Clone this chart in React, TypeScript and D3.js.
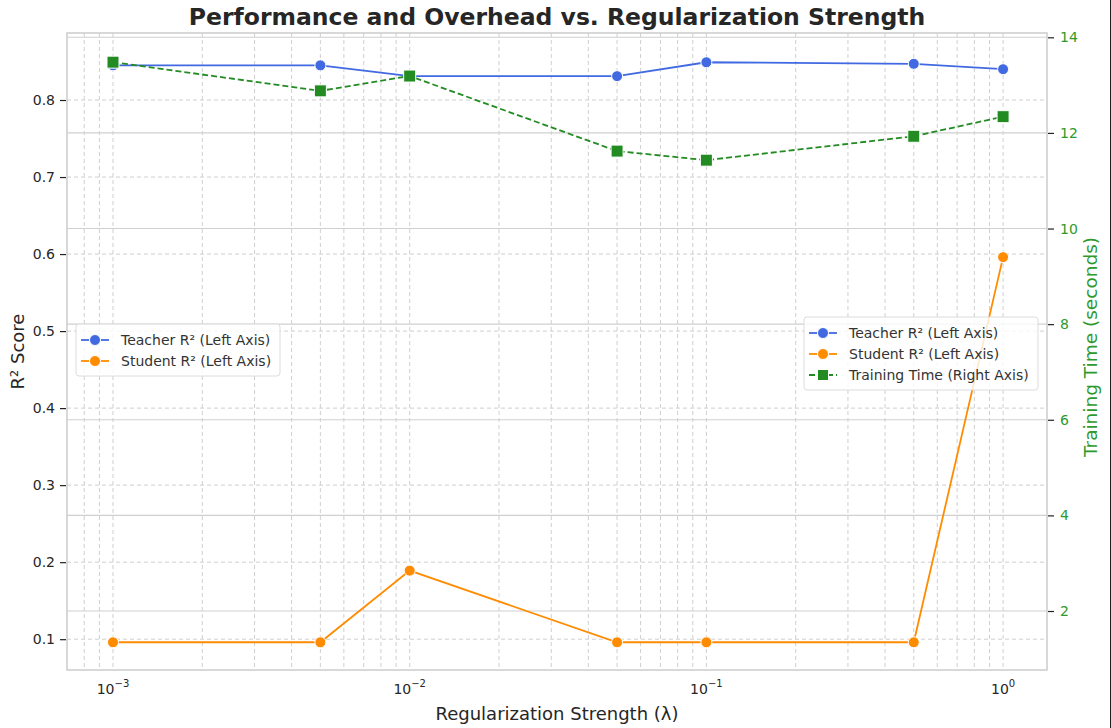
import { useEffect, useRef } from 'react'
import * as d3 from 'd3'

// regularization strengths (x, log scale)
const lambdas = [0.001, 0.005, 0.01, 0.05, 0.1, 0.5, 1.0]
// R² scores, left axis
const teacherR2 = [0.845, 0.845, 0.831, 0.831, 0.849, 0.847, 0.84]
const studentR2 = [0.096, 0.096, 0.189, 0.096, 0.096, 0.096, 0.596]
// training time in seconds, right axis
const trainTime = [13.48, 12.88, 13.19, 11.62, 11.43, 11.93, 12.34]

const leftTicks = [0.1, 0.2, 0.3, 0.4, 0.5, 0.6, 0.7, 0.8]
const rightTicks = [2, 4, 6, 8, 10, 12, 14]
const xMajorTicks = [1e-3, 1e-2, 1e-1, 1]
const xTickExp = ['−3', '−2', '−1', '0']

const BLUE = '#4169E1'
const ORANGE = '#FF8C00'
const GREEN = '#228B22'
const FONT = 'DejaVu Sans, sans-serif'

const App = () => {
  const svgRef = useRef<SVGSVGElement | null>(null)

  useEffect(() => {
    if (!svgRef.current) return
    const svg = d3.select(svgRef.current)
    svg.selectAll('*').remove()

    const W = 1111
    const H = 728
    const left = 67
    const right = 1047
    const top = 33
    const bottom = 670

    svg.append('rect').attr('width', W).attr('height', H).attr('fill', 'white')

    // scales
    const x = d3.scaleLog().domain([Math.pow(10, -3.155), Math.pow(10, 0.148)]).range([left, right])
    const y = d3.scaleLinear().domain([0.06, 0.887]).range([bottom, top])
    const y2 = d3.scaleLinear().domain([0.766, 14.09]).range([bottom, top])

    const grid = svg.append('g')

    // x grid - major + minor, dashed
    const xGridVals: number[] = []
    for (let e = -4; e <= 0; e++) {
      for (let m = 1; m <= 9; m++) {
        const v = m * Math.pow(10, e)
        const px = x(v)
        if (px > left + 1 && px < right - 1) xGridVals.push(v)
      }
    }
    grid.selectAll('line.xg')
      .data(xGridVals)
      .join('line')
      .attr('x1', (d) => x(d))
      .attr('x2', (d) => x(d))
      .attr('y1', top)
      .attr('y2', bottom)
      .attr('stroke', '#cfcfcf')
      .attr('stroke-width', 1)
      .attr('stroke-dasharray', '4,3')

    // left y grid - dashed
    grid.selectAll('line.yg')
      .data(leftTicks)
      .join('line')
      .attr('x1', left)
      .attr('x2', right)
      .attr('y1', (d) => y(d))
      .attr('y2', (d) => y(d))
      .attr('stroke', '#cfcfcf')
      .attr('stroke-width', 1)
      .attr('stroke-dasharray', '4,3')

    // right y grid - solid
    const grid2 = svg.append('g')
    grid2.selectAll('line')
      .data(rightTicks)
      .join('line')
      .attr('x1', left)
      .attr('x2', right)
      .attr('y1', (d) => y2(d))
      .attr('y2', (d) => y2(d))
      .attr('stroke', '#d0d0d0')
      .attr('stroke-width', 1.1)

    // teacher + student lines
    const idx = d3.range(lambdas.length)
    const drawSeries = (vals: number[], color: string) => {
      const line = d3.line<number>().x((i) => x(lambdas[i])).y((i) => y(vals[i]))
      svg.append('path')
        .datum(idx)
        .attr('fill', 'none')
        .attr('stroke', color)
        .attr('stroke-width', 1.8)
        .attr('d', line)
      svg.append('g')
        .selectAll('circle')
        .data(idx)
        .join('circle')
        .attr('cx', (i) => x(lambdas[i]))
        .attr('cy', (i) => y(vals[i]))
        .attr('r', 5.5)
        .attr('fill', color)
        .attr('stroke', 'white')
        .attr('stroke-width', 1)
    }
    drawSeries(teacherR2, BLUE)
    drawSeries(studentR2, ORANGE)

    // legend box helper
    const legend = (lx: number, ly: number, w: number, items: { label: string; color: string; square: boolean; dashed: boolean }[]) => {
      const g = svg.append('g')
      const rowH = 21
      g.append('rect')
        .attr('x', lx)
        .attr('y', ly)
        .attr('width', w)
        .attr('height', items.length * rowH + 10)
        .attr('rx', 3)
        .attr('fill', 'white')
        .attr('fill-opacity', 0.8)
        .attr('stroke', '#dcdcdc')
      items.forEach((it, i) => {
        const cy = ly + 16 + i * rowH
        g.append('line')
          .attr('x1', lx + 5)
          .attr('x2', lx + 33)
          .attr('y1', cy)
          .attr('y2', cy)
          .attr('stroke', it.color)
          .attr('stroke-width', 1.8)
          .attr('stroke-dasharray', it.dashed ? '6,3' : null)
        if (it.square) {
          g.append('rect')
            .attr('x', lx + 19 - 5.5)
            .attr('y', cy - 5.5)
            .attr('width', 11)
            .attr('height', 11)
            .attr('fill', it.color)
            .attr('stroke', 'white')
        } else {
          g.append('circle')
            .attr('cx', lx + 19)
            .attr('cy', cy)
            .attr('r', 5.5)
            .attr('fill', it.color)
            .attr('stroke', 'white')
        }
        g.append('text')
          .attr('x', lx + 45)
          .attr('y', cy + 5)
          .attr('font-family', FONT)
          .attr('font-size', 14)
          .attr('fill', '#333')
          .text(it.label)
      })
    }
    legend(76, 324, 204, [
      { label: 'Teacher R² (Left Axis)', color: BLUE, square: false, dashed: false },
      { label: 'Student R² (Left Axis)', color: ORANGE, square: false, dashed: false },
    ])

    // training time on twin axis
    const line2 = d3.line<number>().x((i) => x(lambdas[i])).y((i) => y2(trainTime[i]))
    svg.append('path')
      .datum(idx)
      .attr('fill', 'none')
      .attr('stroke', GREEN)
      .attr('stroke-width', 1.8)
      .attr('stroke-dasharray', '6,3')
      .attr('d', line2)
    svg.append('g')
      .selectAll('rect')
      .data(idx)
      .join('rect')
      .attr('x', (i) => x(lambdas[i]) - 6)
      .attr('y', (i) => y2(trainTime[i]) - 6)
      .attr('width', 12)
      .attr('height', 12)
      .attr('fill', GREEN)
      .attr('stroke', 'white')
      .attr('stroke-width', 1)

    legend(804, 317, 234, [
      { label: 'Teacher R² (Left Axis)', color: BLUE, square: false, dashed: false },
      { label: 'Student R² (Left Axis)', color: ORANGE, square: false, dashed: false },
      { label: 'Training Time (Right Axis)', color: GREEN, square: true, dashed: true },
    ])

    // spines
    svg.append('rect')
      .attr('x', left)
      .attr('y', top)
      .attr('width', right - left)
      .attr('height', bottom - top)
      .attr('fill', 'none')
      .attr('stroke', '#cccccc')
      .attr('stroke-width', 1.5)

    // left axis
    const yAxis = d3.axisLeft(y).tickValues(leftTicks).tickFormat(d3.format('.1f')).tickSize(6).tickPadding(5)
    const ga = svg.append('g').attr('transform', `translate(${left - 1},0)`).call(yAxis)
    ga.select('.domain').remove()
    ga.selectAll('line').attr('stroke', '#222').attr('stroke-width', 1.2)
    ga.selectAll('text').attr('font-family', FONT).attr('font-size', 14).attr('fill', '#262626')

    // right axis
    const y2Axis = d3.axisRight(y2).tickValues(rightTicks).tickFormat(d3.format('d')).tickSize(6).tickPadding(6)
    const gb = svg.append('g').attr('transform', `translate(${right + 1},0)`).call(y2Axis)
    gb.select('.domain').remove()
    gb.selectAll('line').attr('stroke', '#222').attr('stroke-width', 1.2)
    gb.selectAll('text').attr('font-family', FONT).attr('font-size', 14).attr('fill', '#2e9a2e')

    // x tick labels as 10^n
    const xt = svg.append('g')
    xMajorTicks.forEach((v, i) => {
      const t = xt.append('text')
        .attr('x', x(v))
        .attr('y', 694)
        .attr('text-anchor', 'middle')
        .attr('font-family', FONT)
        .attr('font-size', 14)
        .attr('fill', '#262626')
      t.append('tspan').text('10')
      t.append('tspan').attr('dy', -7).attr('font-size', 10).text(xTickExp[i])
    })

    // title + axis labels
    svg.append('text')
      .attr('x', (left + right) / 2)
      .attr('y', 25)
      .attr('text-anchor', 'middle')
      .attr('font-family', FONT)
      .attr('font-weight', 'bold')
      .attr('font-size', 23.5)
      .attr('fill', '#262626')
      .text('Performance and Overhead vs. Regularization Strength')

    svg.append('text')
      .attr('x', (left + right) / 2)
      .attr('y', 720)
      .attr('text-anchor', 'middle')
      .attr('font-family', FONT)
      .attr('font-size', 18)
      .attr('fill', '#262626')
      .text('Regularization Strength (λ)')

    svg.append('text')
      .attr('transform', `translate(24,${(top + bottom) / 2}) rotate(-90)`)
      .attr('text-anchor', 'middle')
      .attr('font-family', FONT)
      .attr('font-size', 18)
      .attr('fill', '#262626')
      .text('R² Score')

    svg.append('text')
      .attr('transform', `translate(1097,347) rotate(-90)`)
      .attr('text-anchor', 'middle')
      .attr('font-family', FONT)
      .attr('font-size', 18.5)
      .attr('fill', '#2e9a2e')
      .text('Training Time (seconds)')

    // frame edge on the right
    svg.append('line')
      .attr('x1', W - 0.5)
      .attr('x2', W - 0.5)
      .attr('y1', 0)
      .attr('y2', H)
      .attr('stroke', '#222')
      .attr('stroke-width', 1)
  }, [])

  return <svg ref={svgRef} width={1111} height={728} style={{ position: 'absolute', left: 0, top: 0 }}></svg>
}

export default App
